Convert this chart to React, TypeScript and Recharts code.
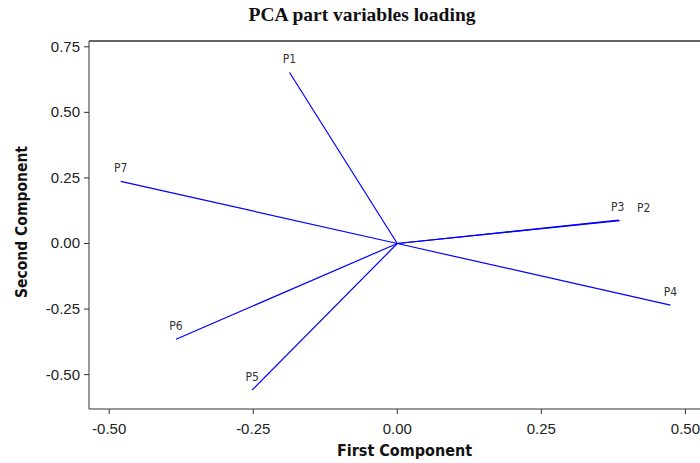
import React from 'react';
import { ScatterChart, Scatter, XAxis, YAxis, ReferenceLine } from 'recharts';

const variables = ['P1', 'P2', 'P3', 'P4', 'P5', 'P6', 'P7'];
const firstComponent = [-0.187, 0.386, 0.384, 0.474, -0.252, -0.384, -0.48];
const secondComponent = [0.652, 0.087, 0.089, -0.235, -0.559, -0.365, 0.237];

const xTicks = [-0.5, -0.25, 0, 0.25, 0.5];
const yTicks = [-0.5, -0.25, 0, 0.25, 0.5, 0.75];
const X_DOMAIN: [number, number] = [-0.535, 0.56];
const Y_DOMAIN: [number, number] = [-0.631, 0.772];

// label nudge for overlapping vectors
const labelDx: Record<string, number> = { P2: 24, P3: -1 };

const vectors = variables.map((name, i) => [
  { x: 0, y: 0, name, end: false },
  { x: firstComponent[i], y: secondComponent[i], name, end: true },
]);

const EndLabel = (props: any) => {
  const { cx, cy, payload } = props;
  if (!payload || !payload.end) return <g />;
  return (
    <text
      x={cx + (labelDx[payload.name] ?? 0)}
      y={cy - 9}
      textAnchor="middle"
      fontSize={12}
      fontFamily="DejaVu Sans Condensed, DejaVu Sans, sans-serif"
      fill="#333"
    >
      {payload.name}
    </text>
  );
};

const tickFont = 'Liberation Sans, Arial, sans-serif';
const fmt = (v: number) => v.toFixed(2);

const XTick = ({ x, y, payload }: any) => (
  <text x={x} y={y + 18} textAnchor="middle" fontSize={15} fill="#222" fontFamily={tickFont}>
    {fmt(payload.value)}
  </text>
);

const YTick = ({ x, y, payload }: any) => (
  <text x={x - 2} y={y + 5} textAnchor="end" fontSize={15} fill="#222" fontFamily={tickFont}>
    {fmt(payload.value)}
  </text>
);

const titleFont = 'DejaVu Sans Condensed, DejaVu Sans, sans-serif';

export default function App() {
  return (
    <div style={{ position: 'relative', width: 700, height: 463, background: '#fff', overflow: 'hidden' }}>
      <style>{'body{margin:0}'}</style>
      <div
        style={{
          position: 'absolute',
          top: 4,
          left: 0,
          width: 724,
          textAlign: 'center',
          fontFamily: 'Liberation Serif, Times New Roman, serif',
          fontWeight: 'bold',
          fontSize: 19.5,
          lineHeight: '22px',
          color: '#111',
        }}
      >
        PCA part variables loading
      </div>
      <svg width={40} height={463} style={{ position: 'absolute', left: 0, top: 0 }}>
        <text
          x={27}
          y={222}
          transform="rotate(-90 27 222)"
          textAnchor="middle"
          fontSize={15.5}
          fontWeight="bold"
          fill="#111"
          fontFamily={titleFont}
        >
          Second Component
        </text>
      </svg>
      <div style={{ position: 'absolute', left: 0, top: 0 }}>
        <ScatterChart width={720} height={463} margin={{ top: 41, right: 0, bottom: 24, left: 0 }}>
          <XAxis
            type="number"
            dataKey="x"
            domain={X_DOMAIN}
            ticks={xTicks}
            allowDataOverflow
            height={30}
            stroke="#333"
            tick={<XTick />}
            tickSize={5}
            label={{
              value: 'First Component',
              position: 'insideBottom',
              offset: -17,
              style: { fontSize: 16, fontWeight: 'bold', fill: '#111', fontFamily: titleFont },
            }}
          />
          <YAxis
            type="number"
            dataKey="y"
            domain={Y_DOMAIN}
            ticks={yTicks}
            allowDataOverflow
            width={89}
            stroke="#333"
            tick={<YTick />}
            tickSize={5}
          />
          <ReferenceLine y={Y_DOMAIN[1]} stroke="#333" strokeWidth={1.5} />
          {vectors.map((v) => (
            <Scatter
              key={v[1].name}
              data={v}
              line={{ stroke: '#0000ff', strokeWidth: 1.2 }}
              shape={EndLabel}
              isAnimationActive={false}
            />
          ))}
        </ScatterChart>
      </div>
    </div>
  );
}
